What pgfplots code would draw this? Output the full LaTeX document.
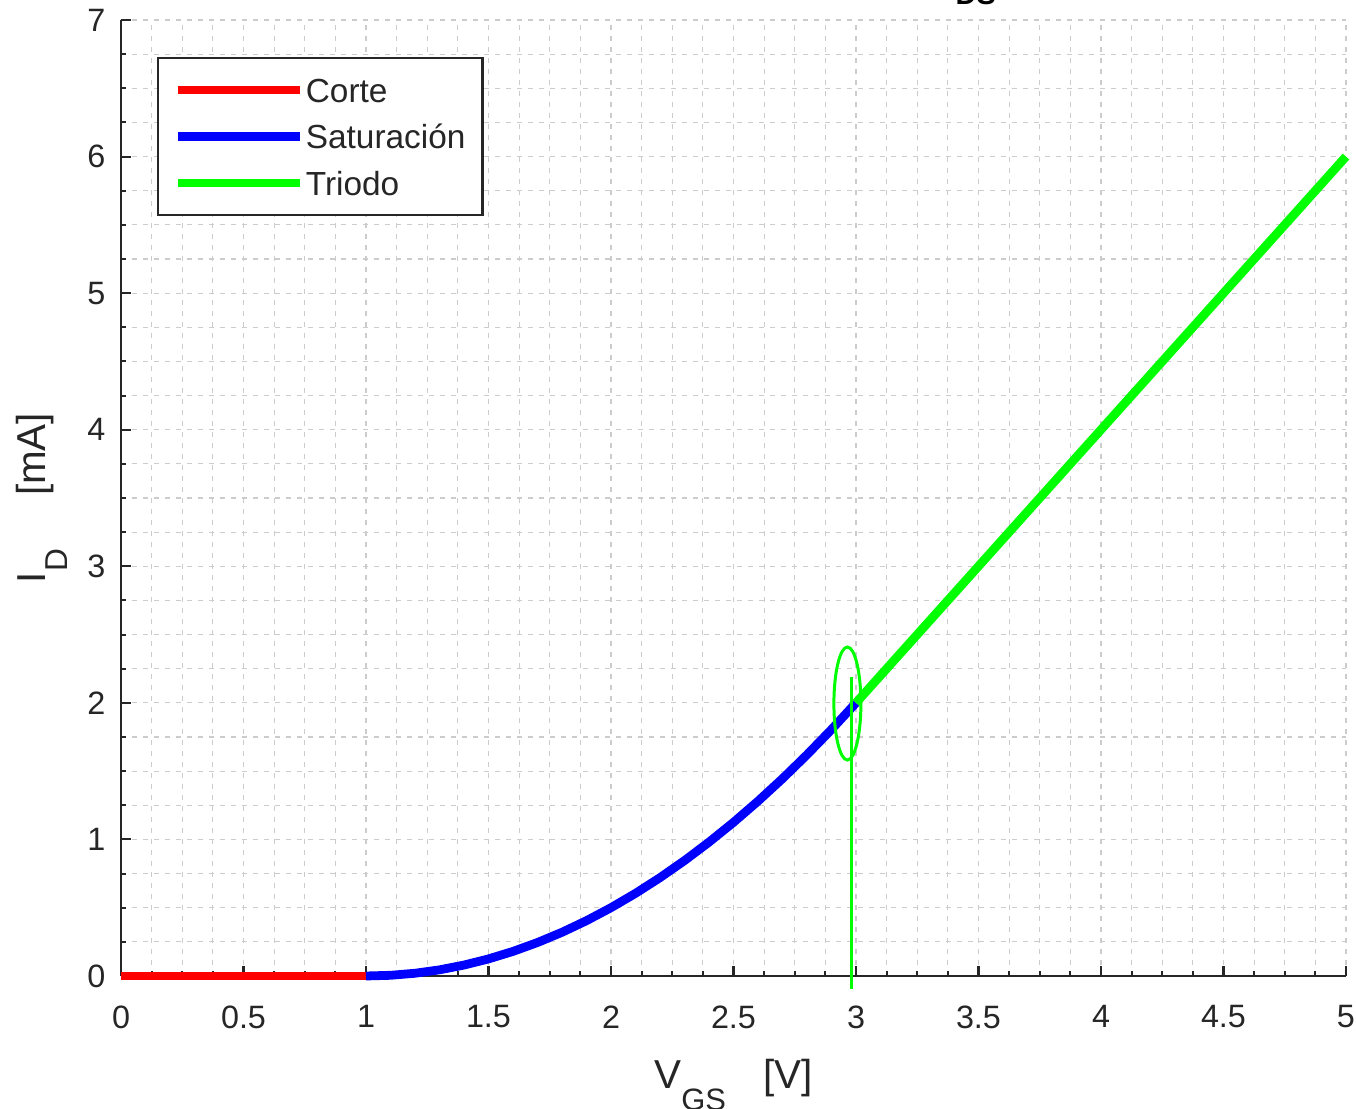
\documentclass[border=0pt]{standalone}
\usepackage{fontspec}
\setmainfont{Liberation Sans}
\usepackage{pgfplots}
\pgfplotsset{compat=1.18}
\definecolor{axgray}{HTML}{262626}
\definecolor{mred}{RGB}{255,0,0}
\definecolor{mblue}{RGB}{0,0,255}
\definecolor{mgreen}{RGB}{0,255,0}

\begin{document}
\begin{tikzpicture}
\begin{axis}[
  width=122.5mm, height=95.6mm, scale only axis,
  xmin=0, xmax=5, ymin=0, ymax=7,
  xtick distance=0.5, ytick distance=1,
  minor x tick num=3, minor y tick num=3,
  axis x line=bottom, axis y line=left,
  axis line style={-, axgray, line width=0.8pt},
  tick align=inside, major tick length=1mm, minor tick length=0.5mm,
  every tick/.style={axgray, line width=0.6pt},
  grid=both,
  major grid style={black!20, line width=0.35pt, dash pattern=on 0.5mm off 0.6mm},
  minor grid style={black!20, line width=0.35pt, dash pattern=on 0.5mm off 0.6mm},
  /pgf/number format/assume math mode=true,
  ticklabel style={font=\fontsize{9.2}{11}\selectfont, text=axgray},
  xticklabel style={anchor=north, inner sep=0pt, yshift=-2.9mm},
  yticklabel style={anchor=east, inner sep=0pt, xshift=-1.5mm},
  xlabel={V\raisebox{-2.2mm}{\fontsize{8.8}{10}\selectfont GS}\hspace{3.7mm}[V]},
  xlabel style={at={(axis description cs:0.5,-0.1172)}, anchor=base, inner sep=0pt,
    font=\fontsize{11.5}{13}\selectfont, text=axgray},
  ylabel={I\raisebox{-2.2mm}{\fontsize{9}{10}\selectfont D}\hspace{5.3mm}[mA]},
  ylabel style={at={(axis description cs:-0.0620,0.5)}, anchor=base, inner sep=0pt,
    font=\fontsize{11.5}{13}\selectfont, text=axgray},
  legend style={at={(axis description cs:0,1)}, anchor=north west,
    xshift=3.6mm, yshift=-3.7mm, draw=axgray, line width=0.6pt, fill=white,
    font=\fontsize{9.5}{11}\selectfont, text=axgray,
    inner xsep=1.6mm, inner ysep=1.25mm, row sep=0.75mm,
    nodes={inner xsep=0.1mm, inner ysep=0.35mm, text height=2.8mm, text depth=0.4mm},
    cells={anchor=west}},
  legend image code/.code={\draw[#1] (0mm,0mm) -- (12.2mm,0mm);},
  clip=false,
]
\addplot[mred, line width=2.5pt] coordinates {(0,0) (1,0)};
\addlegendentry{Corte}
\addplot[mblue, line width=2.5pt] coordinates {
(1.0,0) (1.1,0.005) (1.2,0.02) (1.3,0.045) (1.4,0.08) (1.5,0.125)
(1.6,0.18) (1.7,0.245) (1.8,0.32) (1.9,0.405) (2.0,0.5) (2.1,0.605)
(2.2,0.72) (2.3,0.845) (2.4,0.98) (2.5,1.125) (2.6,1.28) (2.7,1.445)
(2.8,1.62) (2.9,1.805) (3.0,2.0)};
\addlegendentry{Saturación}
\addplot[mgreen, line width=2.5pt] coordinates {(3,2) (5,6)};
\addlegendentry{Triodo}
\addplot[mgreen, line width=0.85pt, forget plot] coordinates {(2.98,2.19) (2.98,-0.095)};
\draw[mgreen, line width=0.85pt] (axis cs:2.965,1.995) ellipse [x radius=1.35mm, y radius=5.65mm];
\end{axis}
\node[anchor=base west, inner sep=0pt, font=\fontsize{8.2}{10}\selectfont\bfseries, text=black]
  at (83.4mm,97.1mm) {DS};
\pgfresetboundingbox
\useasboundingbox (-12.1mm,-13.3mm) rectangle (123.5mm,97.6mm);
\end{tikzpicture}
\end{document}
